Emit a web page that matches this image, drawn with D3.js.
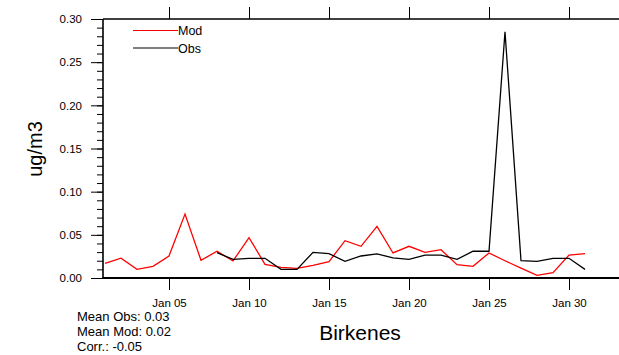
<!DOCTYPE html>
<html>
<head>
<meta charset="utf-8">
<script src="https://cdn.jsdelivr.net/npm/d3@7"></script>
<style>
  html, body { margin: 0; padding: 0; background: #fff; }
  svg { display: block; font-family: "Liberation Sans", Arial, Helvetica, sans-serif; }
</style>
</head>
<body>
<svg id="chart" width="619" height="355"></svg>
<script>
// Daily concentrations at Birkenes for January (day of month 1..31)
const days = d3.range(1, 32);
const modValues = [0.017, 0.023, 0.010, 0.0135, 0.0255, 0.074, 0.0205, 0.031, 0.0197, 0.0467,
                   0.0158, 0.0124, 0.0112, 0.0147, 0.0189, 0.0432, 0.0367, 0.0598, 0.029, 0.0367,
                   0.0297, 0.0328, 0.0154, 0.0135, 0.029, 0.020, 0.0115, 0.003, 0.0062, 0.0266,
                   0.0282];
const obsValues = [null, null, null, null, null, null, null, 0.0293, 0.0216, 0.0228,
                   0.0228, 0.010, 0.010, 0.0297, 0.0282, 0.0193, 0.0255, 0.028, 0.0232, 0.0216,
                   0.0266, 0.0266, 0.0216, 0.031, 0.031, 0.2853, 0.020, 0.0193, 0.0228, 0.0228,
                   0.010];
const xTickDays = [5, 10, 15, 20, 25, 30];
const xTickLabels = ["Jan 05", "Jan 10", "Jan 15", "Jan 20", "Jan 25", "Jan 30"];
const yMajorTicks = [0, 0.05, 0.10, 0.15, 0.20, 0.25, 0.30];
const yMinorTicks = d3.range(0, 31).map(i => i / 100);
const seriesNames = ["Mod", "Obs"];
const seriesColors = ["#ff0000", "#000000"];
const statsLines = ["Mean Obs: 0.03", "Mean Mod: 0.02", "Corr.: -0.05"];
const stationName = "Birkenes";
const unitLabel = "ug/m3";

const svg = d3.select("#chart");
const plotLeft = 103, plotRight = 619, plotTop = 19, plotBottom = 278;

const x = d3.scaleLinear().domain([0.875, 33.125]).range([plotLeft, plotRight]);
const y = d3.scaleLinear().domain([0, 0.30]).range([plotBottom, plotTop]);

// Y axis: minor ticks every 0.01, major every 0.05 with labels
svg.append("g")
  .attr("transform", `translate(${plotLeft},0)`)
  .call(d3.axisLeft(y).tickValues(yMinorTicks).tickSize(6).tickFormat(""))
  .call(g => g.select(".domain").remove())
  .call(g => g.selectAll("line").attr("stroke", "#000").attr("stroke-width", 1));

svg.append("g")
  .attr("transform", `translate(${plotLeft},0)`)
  .call(d3.axisLeft(y).tickValues(yMajorTicks).tickSize(12).tickPadding(9).tickFormat(d3.format(".2f")))
  .call(g => g.select(".domain").remove())
  .call(g => g.selectAll("line").attr("stroke", "#000").attr("stroke-width", 1))
  .call(g => g.selectAll("text").attr("fill", "#000").style("font-size", "11.5px")
    .style("font-family", "'Liberation Sans', Arial, sans-serif"));

// X axis ticks, bottom (labelled) and top (mirrored)
const xTickFmt = d => xTickLabels[xTickDays.indexOf(d)];
svg.append("g")
  .attr("transform", `translate(0,${plotBottom})`)
  .call(d3.axisBottom(x).tickValues(xTickDays).tickSize(12).tickPadding(9).tickFormat(xTickFmt))
  .call(g => g.select(".domain").remove())
  .call(g => g.selectAll("line").attr("stroke", "#000").attr("stroke-width", 1))
  .call(g => g.selectAll("text").attr("fill", "#000").style("font-size", "11.5px")
    .style("font-family", "'Liberation Sans', Arial, sans-serif"));

svg.append("g")
  .attr("transform", `translate(0,${plotTop})`)
  .call(d3.axisTop(x).tickValues(xTickDays).tickSize(12).tickFormat(""))
  .call(g => g.select(".domain").remove())
  .call(g => g.selectAll("line").attr("stroke", "#000").attr("stroke-width", 1));

// Data lines
const clipId = "plot-clip";
svg.append("clipPath").attr("id", clipId)
  .append("rect").attr("x", plotLeft).attr("y", plotTop - 1)
  .attr("width", plotRight - plotLeft).attr("height", plotBottom - plotTop + 2);

const line = d3.line()
  .defined(d => d[1] != null)
  .x(d => x(d[0]))
  .y(d => y(d[1]));

const series = [modValues, obsValues];
series.forEach((vals, i) => {
  svg.append("path")
    .datum(days.map((d, k) => [d, vals[k]]))
    .attr("clip-path", `url(#${clipId})`)
    .attr("fill", "none")
    .attr("stroke", seriesColors[i])
    .attr("stroke-width", 1.3)
    .attr("stroke-linejoin", "miter")
    .attr("d", line);
});

// Frame lines
svg.append("line").attr("x1", plotLeft).attr("x2", plotLeft).attr("y1", plotTop).attr("y2", plotBottom + 1)
  .attr("stroke", "#000").attr("stroke-width", 1.6);
svg.append("line").attr("x1", plotLeft).attr("x2", plotRight).attr("y1", plotTop).attr("y2", plotTop)
  .attr("stroke", "#000").attr("stroke-width", 1.4);
svg.append("line").attr("x1", plotLeft - 0.8).attr("x2", plotRight).attr("y1", plotBottom).attr("y2", plotBottom)
  .attr("stroke", "#000").attr("stroke-width", 1.8);

// Legend
const legend = svg.append("g");
seriesNames.forEach((name, i) => {
  const ly = 30.5 + i * 17.5;
  legend.append("line").attr("x1", 133).attr("x2", 178).attr("y1", ly).attr("y2", ly)
    .attr("stroke", seriesColors[i]).attr("stroke-width", 1.1);
  legend.append("text").attr("x", 178).attr("y", ly).attr("dy", "0.36em")
    .style("font-size", "12.5px").attr("fill", "#000").text(name);
});

// Y label
svg.append("text")
  .attr("transform", `translate(42,149) rotate(-90)`)
  .attr("text-anchor", "middle")
  .style("font-size", "20px")
  .attr("fill", "#000")
  .text(unitLabel);

// Station title
svg.append("text")
  .attr("x", 360).attr("y", 339.5)
  .attr("text-anchor", "middle")
  .style("font-size", "21px")
  .attr("fill", "#000")
  .text(stationName);

// Summary statistics
statsLines.forEach((t, i) => {
  svg.append("text")
    .attr("x", 77).attr("y", 321 + i * 15)
    .style("font-size", "13px")
    .attr("fill", "#000")
    .text(t);
});
</script>
</body>
</html>
